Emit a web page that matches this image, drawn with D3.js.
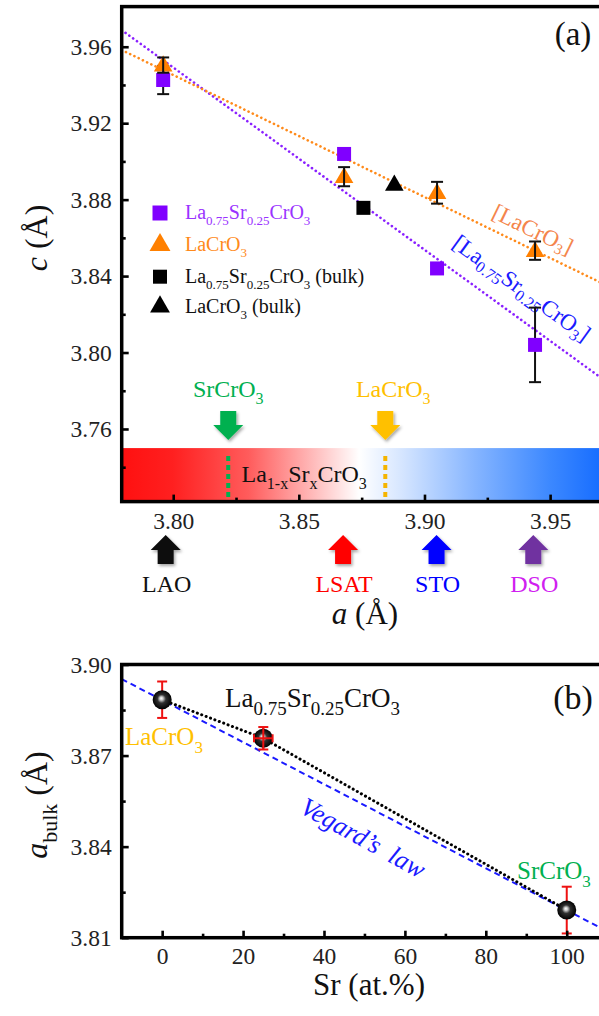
<!DOCTYPE html>
<html><head><meta charset="utf-8">
<script src="https://cdn.jsdelivr.net/npm/d3@7"></script>
<style>
html,body{margin:0;padding:0;background:#fff;}
svg text{font-family:"Liberation Serif","DejaVu Serif","Noto Serif","Times New Roman",serif !important;}
</style></head>
<body>
<svg id="chart" width="599" height="1016"></svg>
<script>
// ---------- Panel (a) data ----------
const aSubstrate = [3.796, 3.868, 3.905, 3.944];            // in-plane a (Å)
const cLSCO = [3.9426, 3.9039, 3.8440, 3.8040];              // La0.75Sr0.25CrO3 films
const cLSCOErr = [0.0074, 0.0020, 0.0020, 0.0195];
const cLCO = [3.9504, 3.8920, 3.8836, 3.8533];               // LaCrO3 films
const cLCOErr = [0.0040, 0.0050, 0.0057, 0.0048];
const bulkA = [3.8757, 3.8880];                              // bulk: LSCO square, LCO triangle
const bulkC = [3.8757, 3.8880];
const fitLSCO = [[3.7795, 3.9687], [3.98, 3.7775]];
const fitLCO = [[3.7795, 3.9583], [3.98, 3.8303]];
const substrateNames = ["LAO", "LSAT", "STO", "DSO"];
const substrateA = [3.797, 3.8676, 3.9048, 3.9433];
const compoundNames = ["SrCrO3", "LaCrO3"];
const compoundA = [3.8219, 3.8844];
const xTicksA = [3.80, 3.85, 3.90, 3.95];
const xMinorA = [3.825, 3.875, 3.925, 3.975];
const yTicksA = [3.76, 3.80, 3.84, 3.88, 3.92, 3.96];
const yMinorA = [3.74, 3.78, 3.82, 3.86, 3.90, 3.94];

// ---------- Panel (b) data ----------
const srPct = [0, 25, 100];
const aBulk = [3.8884, 3.8757, 3.8191];
const aBulkErr = [0.0060, 0.0037, 0.0077];
const srErr = [0, 2.3, 0];
const vegard = [[-10, 3.8952], [110, 3.8121]];
const xTicksB = [0, 20, 40, 60, 80, 100];
const xMinorB = [10, 30, 50, 70, 90];
const yTicksB = [3.81, 3.84, 3.87, 3.90];
const yMinorB = [3.825, 3.855, 3.885];

const svg = d3.select("#chart");
const defs = svg.append("defs");
const FONT = '"Liberation Serif","DejaVu Serif","Times New Roman",serif';

// scales
const xA = d3.scaleLinear().domain([3.7795, 3.98]).range([121.7, 625.5]);
const yA = d3.scaleLinear().domain([3.722, 3.981]).range([501.6, 6.6]);
const xB = d3.scaleLinear().domain([-10, 110]).range([121.7, 607.2]);
const yB = d3.scaleLinear().domain([3.81, 3.90]).range([937.7, 664.5]);

// rich text helper: parts = [[text, mode]] mode: "" | "sub" | "it"
function rich(textSel, parts, size, subSize) {
  let shifted = 0;
  parts.forEach(([t, m]) => {
    const ts = textSel.append("tspan").text(t);
    if (m === "sub") {
      ts.attr("font-size", subSize);
      if (!shifted) { ts.attr("dy", size * 0.3); shifted = 1; }
    } else {
      if (shifted) { ts.attr("dy", -size * 0.3); shifted = 0; }
      if (m === "it") ts.attr("font-style", "italic");
    }
  });
  return textSel;
}

// filters / gradients
const sh = defs.append("filter").attr("id", "shadow").attr("x", "-50%").attr("y", "-50%").attr("width", "200%").attr("height", "200%");
sh.append("feDropShadow").attr("dx", 1.5).attr("dy", 2).attr("stdDeviation", 1.5).attr("flood-opacity", 0.35);

const grad = defs.append("linearGradient").attr("id", "barGrad")
  .attr("gradientUnits", "userSpaceOnUse")
  .attr("x1", xA(3.7795)).attr("x2", xA(3.98)).attr("y1", 0).attr("y2", 0);
[[3.7795, "#ff1010"], [3.80, "#ff2020"], [3.83, "#ff5c5c"], [3.855, "#ffb8b8"], [3.874, "#ffffff"],
 [3.89, "#d8e7ff"], [3.92, "#86b5ff"], [3.95, "#3c88ff"], [3.98, "#0560ff"]].forEach(([v, c]) => {
  grad.append("stop").attr("offset", (v - 3.7795) / (3.98 - 3.7795)).attr("stop-color", c);
});

const ball = defs.append("radialGradient").attr("id", "ball").attr("cx", "50%").attr("cy", "50%").attr("r", "50%")
  .attr("fx", "45%").attr("fy", "42%");
ball.append("stop").attr("offset", 0).attr("stop-color", "#ffffff");
ball.append("stop").attr("offset", 0.18).attr("stop-color", "#c8c8c8");
ball.append("stop").attr("offset", 0.45).attr("stop-color", "#303030");
ball.append("stop").attr("offset", 1).attr("stop-color", "#000000");

// ================= PANEL (a) =================
const gA = svg.append("g");
const [ax0, ax1] = xA.range(), [ay1, ay0] = yA.range();
defs.append("clipPath").attr("id", "clipA").append("rect")
  .attr("x", ax0).attr("y", ay0).attr("width", ax1 - ax0).attr("height", ay1 - ay0);

// color bar
const barTop = yA(3.75);
gA.append("rect").attr("x", ax0).attr("y", barTop).attr("width", ax1 - ax0).attr("height", ay1 - barTop)
  .attr("fill", "url(#barGrad)");
const compColors = ["#00b050", "#ffc000"];
const compLineColors = ["#00b050", "#f5b400"];
compoundA.forEach((v, i) => {
  gA.append("line").attr("x1", xA(v)).attr("x2", xA(v)).attr("y1", barTop + 8).attr("y2", ay1 - 2)
    .attr("stroke", compLineColors[i]).attr("stroke-width", 4).attr("stroke-dasharray", "5,4");
});
rich(gA.append("text").attr("x", 241.5).attr("y", 481.5).attr("font-size", 24).attr("fill", "#111"),
  [["La", ""], ["1-x", "sub"], ["Sr", ""], ["x", "sub"], ["CrO", ""], ["3", "sub"]], 24, 16);

// arrows
function arrowPath(cx, tipY, dir) { // dir = +1 pointing down, -1 up
  const L = 29, H = 15, hw = 15, sw = 8;
  const baseY = tipY - dir * H, endY = tipY - dir * L;
  return `M${cx},${tipY} L${cx - hw},${baseY} L${cx - sw},${baseY} L${cx - sw},${endY} L${cx + sw},${endY} L${cx + sw},${baseY} L${cx + hw},${baseY} Z`;
}
compoundA.forEach((v, i) => {
  gA.append("path").attr("d", arrowPath(xA(v), barTop - 8, 1)).attr("fill", compColors[i]).attr("filter", "url(#shadow)");
  const name = compoundNames[i];
  rich(gA.append("text").attr("x", xA(v) + (i ? 8 : 0)).attr("y", 396.5).attr("text-anchor", "middle")
    .attr("font-size", 24).attr("fill", compColors[i]),
    [[name.slice(0, -1), ""], [name.slice(-1), "sub"]], 24, 16);
});
const subArrowColors = ["#111111", "#ff0000", "#0000ff", "#7030a0"];
const subTextColors = ["#111111", "#ff0000", "#0000ff", "#d020f0"];
substrateA.forEach((v, i) => {
  gA.append("path").attr("d", arrowPath(xA(v), 535, -1)).attr("fill", subArrowColors[i]).attr("filter", "url(#shadow)");
  gA.append("text").attr("x", xA(v) + 1).attr("y", 592).attr("text-anchor", "middle")
    .attr("font-size", 24).attr("fill", subTextColors[i]).text(substrateNames[i]);
});

// fit lines
const lineA = d3.line().x(d => xA(d[0])).y(d => yA(d[1]));
const fits = gA.append("g").attr("clip-path", "url(#clipA)");
fits.append("path").attr("d", lineA(fitLSCO)).attr("fill", "none").attr("stroke", "#8a20ff")
  .attr("stroke-width", 2.6).attr("stroke-dasharray", "0.1,4.6").attr("stroke-linecap", "round");
fits.append("path").attr("d", lineA(fitLCO)).attr("fill", "none").attr("stroke", "#ff8a1a")
  .attr("stroke-width", 2.6).attr("stroke-dasharray", "0.1,4.6").attr("stroke-linecap", "round");

// fit labels
const l1 = gA.append("g").attr("transform", "translate(533,229) rotate(26)");
rich(l1.append("text").attr("text-anchor", "middle").attr("dominant-baseline", "central")
  .attr("font-size", 23).attr("fill", "#f4854c"),
  [["[LaCrO", ""], ["3", "sub"], ["]", ""]], 23, 15);
const l2 = gA.append("g").attr("transform", "translate(522,288) rotate(36)");
rich(l2.append("text").attr("text-anchor", "middle").attr("dominant-baseline", "central")
  .attr("font-size", 23).attr("fill", "#1a1aff"),
  [["[La", ""], ["0.75", "sub"], ["Sr", ""], ["0.25", "sub"], ["CrO", ""], ["3", "sub"], ["]", ""]], 23, 16);

// error bars
function errBar(g, x, y0, y1, color, cap, w) {
  g.append("line").attr("x1", x).attr("x2", x).attr("y1", y0).attr("y2", y1).attr("stroke", color).attr("stroke-width", w);
  [y0, y1].forEach(y => g.append("line").attr("x1", x - cap).attr("x2", x + cap).attr("y1", y).attr("y2", y)
    .attr("stroke", color).attr("stroke-width", w));
}
const pts = gA.append("g");
aSubstrate.forEach((a, i) => {
  errBar(pts, xA(a), yA(cLSCO[i] - cLSCOErr[i]), yA(cLSCO[i] + cLSCOErr[i]), "#111", 6, 2);
});
const sq = d3.symbol().type(d3.symbolSquare), tri = d3.symbol().type(d3.symbolTriangle);
aSubstrate.forEach((a, i) => {
  pts.append("path").attr("d", sq.size(196)()).attr("transform", `translate(${xA(a)},${yA(cLSCO[i])})`).attr("fill", "#8000ff");
});
aSubstrate.forEach((a, i) => {
  pts.append("path").attr("d", tri.size(150)()).attr("transform", `translate(${xA(a)},${yA(cLCO[i]) + 1})`).attr("fill", "#ff8000");
  errBar(pts, xA(a), yA(cLCO[i] - cLCOErr[i]), yA(cLCO[i] + cLCOErr[i]), "#111", 6, 2);
});
pts.append("path").attr("d", sq.size(196)()).attr("transform", `translate(${xA(bulkA[0])},${yA(bulkC[0])})`).attr("fill", "#000");
pts.append("path").attr("d", tri.size(150)()).attr("transform", `translate(${xA(bulkA[1])},${yA(bulkC[1]) + 1})`).attr("fill", "#000");

// legend
const leg = gA.append("g");
const legRows = [
  {y: 213, sym: sq, size: 225, fill: "#8000ff", tc: "#9a33ff", parts: [["La", ""], ["0.75", "sub"], ["Sr", ""], ["0.25", "sub"], ["CrO", ""], ["3", "sub"]]},
  {y: 245, sym: tri, size: 190, fill: "#ff8000", tc: "#ff8a1a", parts: [["LaCrO", ""], ["3", "sub"]]},
  {y: 276.7, sym: sq, size: 196, fill: "#000", tc: "#111", parts: [["La", ""], ["0.75", "sub"], ["Sr", ""], ["0.25", "sub"], ["CrO", ""], ["3", "sub"], [" (bulk)", ""]]},
  {y: 306.7, sym: tri, size: 170, fill: "#000", tc: "#111", parts: [["LaCrO", ""], ["3", "sub"], [" (bulk)", ""]]}
];
legRows.forEach(r => {
  leg.append("path").attr("d", r.sym.size(r.size)()).attr("transform", `translate(160,${r.y})`).attr("fill", r.fill);
  rich(leg.append("text").attr("x", 185).attr("y", r.y + 6).attr("font-size", 20).attr("fill", r.tc), r.parts, 20, 13);
});

// axes (a)
const axA = gA.append("g");
function styleAxis(g) {
  g.select(".domain").remove();
  g.selectAll(".tick line").attr("stroke", "#000").attr("stroke-width", 2.6);
  g.selectAll(".tick text").attr("font-family", FONT).attr("font-size", 23.5).attr("fill", "#222");
}
axA.append("g").attr("transform", `translate(${ax0},0)`)
  .call(d3.axisLeft(yA).tickValues(yTicksA).tickFormat(d3.format(".2f")).tickSize(-7).tickPadding(10)).call(styleAxis);
axA.append("g").attr("transform", `translate(${ax0},0)`)
  .call(d3.axisLeft(yA).tickValues(yMinorA).tickFormat("").tickSize(-4)).call(styleAxis);
axA.append("g").attr("transform", `translate(0,${ay1})`)
  .call(d3.axisBottom(xA).tickValues(xTicksA).tickFormat(d3.format(".2f")).tickSize(-7).tickPadding(11)).call(styleAxis);
axA.append("g").attr("transform", `translate(0,${ay1})`)
  .call(d3.axisBottom(xA).tickValues(xMinorA).tickFormat("").tickSize(-4)).call(styleAxis);
gA.append("rect").attr("x", ax0).attr("y", ay0).attr("width", ax1 - ax0).attr("height", ay1 - ay0)
  .attr("fill", "none").attr("stroke", "#000").attr("stroke-width", 3.5);

gA.append("text").attr("x", 573).attr("y", 45).attr("text-anchor", "middle").attr("font-size", 33).attr("fill", "#111").text("(a)");
rich(gA.append("text").attr("transform", "translate(47,238) rotate(-90)").attr("text-anchor", "middle")
  .attr("font-size", 32).attr("fill", "#111"), [["c", "it"], [" (Å)", ""]], 32, 22);
rich(gA.append("text").attr("x", 365).attr("y", 624).attr("text-anchor", "middle")
  .attr("font-size", 31).attr("fill", "#111"), [["a", "it"], [" (Å)", ""]], 31, 22);

// ================= PANEL (b) =================
const gB = svg.append("g");
const [bx0, bx1] = xB.range(), [by1, by0] = yB.range();
defs.append("clipPath").attr("id", "clipB").append("rect")
  .attr("x", bx0).attr("y", by0).attr("width", bx1 - bx0).attr("height", by1 - by0);
const lineB = d3.line().x(d => xB(d[0])).y(d => yB(d[1]));
const linesB = gB.append("g").attr("clip-path", "url(#clipB)");
linesB.append("path").attr("d", lineB(vegard)).attr("fill", "none").attr("stroke", "#1a1aff")
  .attr("stroke-width", 2).attr("stroke-dasharray", "6,4");
linesB.append("path").attr("d", lineB(srPct.map((s, i) => [s, aBulk[i]]))).attr("fill", "none").attr("stroke", "#000")
  .attr("stroke-width", 3).attr("stroke-dasharray", "0.1,4.6").attr("stroke-linecap", "round");

srPct.forEach((s, i) => {
  errBar(gB, xB(s), yB(aBulk[i] - aBulkErr[i]), yB(aBulk[i] + aBulkErr[i]), "#ee1111", 5, 2);
});
srPct.forEach((s, i) => {
  gB.append("circle").attr("cx", xB(s)).attr("cy", yB(aBulk[i])).attr("r", 9.5).attr("fill", "url(#ball)");
  if (srErr[i] > 0) {
    gB.append("line").attr("x1", xB(s - srErr[i])).attr("x2", xB(s + srErr[i])).attr("y1", yB(aBulk[i])).attr("y2", yB(aBulk[i]))
      .attr("stroke", "#ee1111").attr("stroke-width", 2);
    [s - srErr[i], s + srErr[i]].forEach(v => gB.append("line").attr("x1", xB(v)).attr("x2", xB(v))
      .attr("y1", yB(aBulk[i]) - 4).attr("y2", yB(aBulk[i]) + 4).attr("stroke", "#ee1111").attr("stroke-width", 2));
    gB.append("line").attr("x1", xB(s)).attr("x2", xB(s)).attr("y1", yB(aBulk[i] - aBulkErr[i])).attr("y2", yB(aBulk[i] + aBulkErr[i]))
      .attr("stroke", "#ee1111").attr("stroke-width", 2);
  }
});

const axB = gB.append("g");
axB.append("g").attr("transform", `translate(${bx0},0)`)
  .call(d3.axisLeft(yB).tickValues(yTicksB).tickFormat(d3.format(".2f")).tickSize(-7).tickPadding(10)).call(styleAxis);
axB.append("g").attr("transform", `translate(${bx0},0)`)
  .call(d3.axisLeft(yB).tickValues(yMinorB).tickFormat("").tickSize(-4)).call(styleAxis);
axB.append("g").attr("transform", `translate(0,${by1})`)
  .call(d3.axisBottom(xB).tickValues(xTicksB).tickFormat(d3.format("d")).tickSize(-7).tickPadding(10)).call(styleAxis);
axB.append("g").attr("transform", `translate(0,${by1})`)
  .call(d3.axisBottom(xB).tickValues(xMinorB).tickFormat("").tickSize(-4)).call(styleAxis);
gB.append("rect").attr("x", bx0).attr("y", by0).attr("width", bx1 - bx0).attr("height", by1 - by0)
  .attr("fill", "none").attr("stroke", "#000").attr("stroke-width", 3.5);

rich(gB.append("text").attr("x", 225).attr("y", 707).attr("font-size", 27).attr("fill", "#111"),
  [["La", ""], ["0.75", "sub"], ["Sr", ""], ["0.25", "sub"], ["CrO", ""], ["3", "sub"]], 27, 19);
gB.append("text").attr("x", 573).attr("y", 709).attr("text-anchor", "middle").attr("font-size", 34).attr("fill", "#111").text("(b)");
rich(gB.append("text").attr("x", 125).attr("y", 745).attr("font-size", 25).attr("fill", "#ffc000"),
  [["LaCrO", ""], ["3", "sub"]], 25, 17);
rich(gB.append("text").attr("x", 517).attr("y", 879).attr("font-size", 25).attr("fill", "#00b050"),
  [["SrCrO", ""], ["3", "sub"]], 25, 17);
gB.append("g").attr("transform", "translate(363,838) rotate(29)")
  .append("text").attr("text-anchor", "middle").attr("dominant-baseline", "central")
  .attr("font-size", 26).attr("font-style", "italic").attr("fill", "#1a1aff").attr("word-spacing", 6).text("Vegard’s law");

rich(gB.append("text").attr("transform", "translate(47,805) rotate(-90)").attr("text-anchor", "middle")
  .attr("font-size", 32).attr("fill", "#111"), [["a", "it"], ["bulk", "sub"], [" (Å)", ""]], 32, 22);
gB.append("text").attr("x", 369).attr("y", 995).attr("text-anchor", "middle").attr("font-size", 31).attr("fill", "#111").text("Sr (at.%)");
</script>
</body></html>
